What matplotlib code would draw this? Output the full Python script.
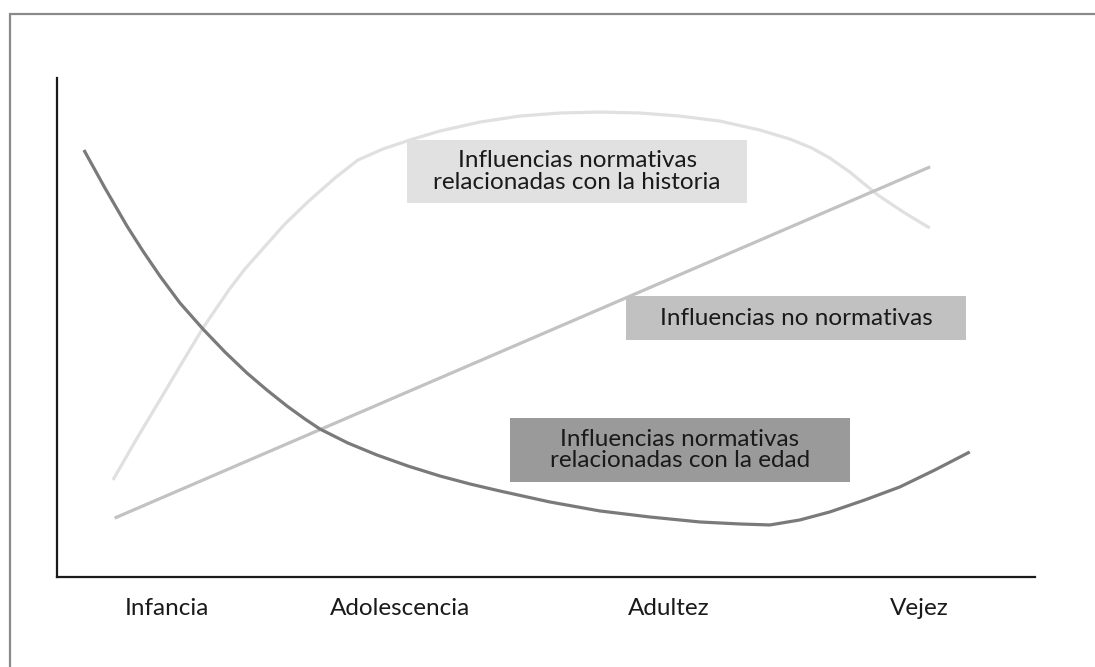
import matplotlib.pyplot as plt
from matplotlib.patches import Rectangle

plt.rcParams['font.family'] = ['Lato', 'DejaVu Sans']

# etapas del ciclo vital (eje x)
etapas = ['Infancia', 'Adolescencia', 'Adultez', 'Vejez']
etapas_x = [11.2, 35.1, 62.6, 88.2]

# influencias normativas relacionadas con la edad
edad_x = [2.76, 4.91, 7.16, 8.79, 10.53, 12.58, 14.93, 17.18, 19.43, 21.47, 23.52,
          25.36, 26.89, 29.75, 32.72, 35.89, 39.16, 42.23, 45.30, 50.41, 55.52,
          60.63, 65.75, 69.84, 72.90, 75.97, 79.04, 82.62, 86.20, 89.78, 93.35]
edad_y = [85.57, 77.96, 70.34, 65.33, 60.32, 54.91, 49.70, 45.09, 40.88, 37.47, 34.27,
          31.66, 29.66, 26.85, 24.45, 22.24, 20.24, 18.64, 17.23, 15.03, 13.23,
          12.02, 11.02, 10.62, 10.42, 11.42, 13.03, 15.43, 18.04, 21.44, 25.05]

# influencias normativas relacionadas con la historia
hist_x = [5.73, 8.08, 10.53, 12.78, 14.93, 17.69, 19.22, 20.76, 23.31, 25.87, 28.43, 30.78,
          33.33, 36.09, 39.16, 43.25, 47.34, 51.43, 55.52, 59.61, 63.70, 67.79,
          71.88, 74.95, 77.20, 79.04, 81.08, 83.95, 86.71, 89.26]
hist_y = [19.44, 27.45, 35.47, 42.89, 49.90, 57.82, 61.72, 65.13, 70.74, 75.55, 79.96, 83.57,
          85.77, 87.58, 89.38, 91.18, 92.38, 92.99, 93.19, 92.99, 92.38, 91.38,
          89.58, 87.78, 85.97, 83.97, 81.16, 76.55, 72.95, 69.94]

# influencias no normativas
nonorm_x = [5.9, 89.3]
nonorm_y = [11.8, 82.2]

fig = plt.figure(figsize=(10.95, 6.67), dpi=100)
ax = fig.add_axes([0.052, 0.135, 0.893, 0.748])

# marco gris de la figura
fig.patches.append(Rectangle((9.5 / 1095, -0.1), 1.2, 1.1 - 14 / 667,
                             transform=fig.transFigure, fill=False,
                             edgecolor='#8a8a8a', linewidth=1.6))

ax.plot(hist_x, hist_y, color='#e0e0e0', linewidth=2.3, solid_capstyle='butt')
ax.plot(nonorm_x, nonorm_y, color='#c2c2c2', linewidth=2.3, solid_capstyle='butt')
ax.plot(edad_x, edad_y, color='#7a7a7a', linewidth=2.3, solid_capstyle='butt')


def caja(x0, x1, y0, y1, color, texto):
    ax.add_patch(Rectangle((x0, y0), x1 - x0, y1 - y0, facecolor=color,
                           edgecolor='none', zorder=3))
    ax.text((x0 + x1) / 2, (y0 + y1) / 2, texto, ha='center', va='center',
            fontsize=17.5, color='#1a1a1a', linespacing=1.05, zorder=4)


caja(35.8, 70.6, 74.9, 87.6, '#e1e1e1', 'Influencias normativas\nrelacionadas con la historia')
caja(58.2, 93.0, 47.5, 56.3, '#c1c1c1', 'Influencias no normativas')
caja(46.3, 81.1, 19.0, 31.9, '#9a9a9a', 'Influencias normativas\nrelacionadas con la edad')

ax.set_xlim(0, 100)
ax.set_ylim(0, 100)
ax.set_xticks(etapas_x)
ax.set_xticklabels(etapas, fontsize=17.5, color='#1a1a1a')
ax.set_yticks([])
ax.tick_params(axis='x', length=0, pad=15)
for s in ['top', 'right']:
    ax.spines[s].set_visible(False)
for s in ['left', 'bottom']:
    ax.spines[s].set_linewidth(1.6)
    ax.spines[s].set_color('#1a1a1a')

fig.savefig('out.png', dpi=100)
